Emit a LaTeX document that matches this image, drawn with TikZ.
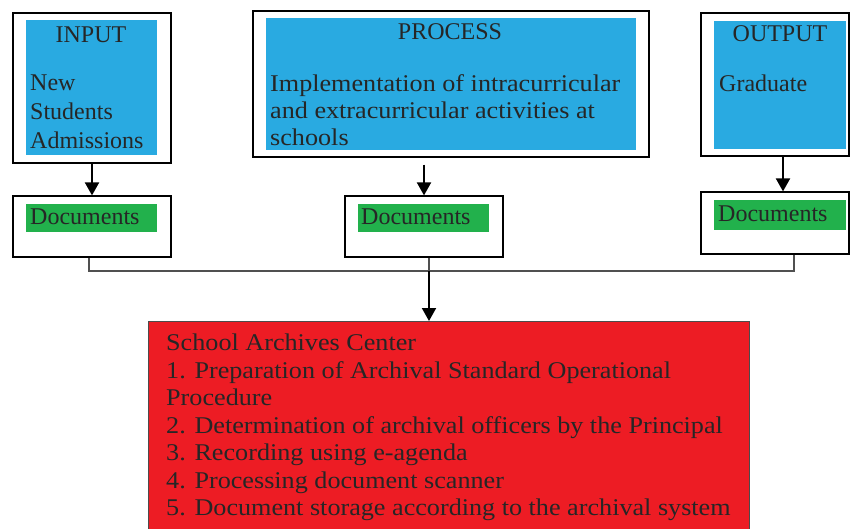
\documentclass[tikz,border=0pt]{standalone}
\usepackage{fontspec}
\setmainfont{Liberation Serif}
\newfontfamily\widefont[FakeStretch=1.09]{Liberation Serif}
\definecolor{boxblue}{RGB}{41,170,225}
\definecolor{boxgreen}{RGB}{34,177,76}
\definecolor{boxred}{RGB}{237,28,36}
\definecolor{linegray}{RGB}{80,80,80}
\usetikzlibrary{arrows.meta}
\tikzset{
  outerbox/.style={draw=black, line width=1.2pt, fill=white, inner sep=0pt},
  bluebox/.style={fill=boxblue, inner sep=0pt},
  greenbox/.style={fill=boxgreen, inner sep=0pt},
  redbox/.style={draw=black!70, line width=1pt, fill=boxred, inner sep=0pt},
  txt/.style={inner sep=0pt, font=\fontsize{24}{29}\selectfont, text=black!85},
  widetxt/.style={inner sep=0pt, font=\widefont\fontsize{24}{27}\selectfont, text=black!85},
  redtxt/.style={inner sep=0pt, font=\widefont\fontsize{24}{27.5}\selectfont, text=black!85},
  arr/.style={draw=black, line width=2pt, -{Triangle[length=13pt,width=14pt]}},
  conn/.style={draw=linegray, line width=1.3pt},
}
\begin{document}
\begin{tikzpicture}[x=1pt,y=-1pt]
\useasboundingbox (0,0) rectangle (851,529);
\clip (0,0) rectangle (851,529);
% INPUT
\node[outerbox, minimum width=158pt, minimum height=150pt] (inbox) at (92,88) {};
\node[bluebox, minimum width=131pt, minimum height=135pt] (inblue) at (91.5,87.5) {};
\node[txt] (intitle) at (91,35) {INPUT};
\node[txt, anchor=west, align=left] (intext) at (30,112) {New\\Students\\Admissions};
% PROCESS
\node[outerbox, minimum width=396pt, minimum height=146pt] (prbox) at (451,84) {};
\node[bluebox, minimum width=370pt, minimum height=132pt] (prblue) at (451,84) {};
\node[txt] (prtitle) at (450,32) {PROCESS};
\node[widetxt, anchor=west, align=left] (prtext) at (270,110) {Implementation of intracurricular\\and extracurricular activities at\\schools};
% OUTPUT
\node[outerbox, minimum width=148pt, minimum height=143pt] (outbox) at (775,84.5) {};
\node[bluebox, minimum width=132pt, minimum height=128pt] (outblue) at (780,85) {};
\node[txt] (outtitle) at (780,34) {OUTPUT};
\node[txt, anchor=west] (outtext) at (719,83) {Graduate};
% Documents
\node[outerbox, minimum width=158pt, minimum height=61pt] (indoc) at (92,226.5) {};
\node[greenbox, minimum width=131pt, minimum height=28pt] (ingreen) at (91.5,218) {};
\node[txt, anchor=west] (indoctext) at (30,217) {Documents};
\node[outerbox, minimum width=158pt, minimum height=61pt] (prdoc) at (424,226.5) {};
\node[greenbox, minimum width=131pt, minimum height=28pt] (prgreen) at (423.5,218) {};
\node[txt, anchor=west] (prdoctext) at (361,217) {Documents};
\node[outerbox, minimum width=148pt, minimum height=62pt] (outdoc) at (775,223) {};
\node[greenbox, minimum width=132pt, minimum height=30pt] (outgreen) at (780,215) {};
\node[txt, anchor=west] (outdoctext) at (718,214) {Documents};
% Red box
\node[redbox, minimum width=601pt, minimum height=240pt, anchor=north west] (archive) at (148,321) {};
\node[redtxt, anchor=north west, align=left] (archtext) at (166,334) {School Archives Center\\1. Preparation of Archival Standard Operational\\Procedure\\2. Determination of archival officers by the Principal\\3. Recording using e-agenda\\4. Processing document scanner\\5. Document storage according to the archival system};
% arrows
\draw[arr] (inbox.south) -- (indoc.north);
\draw[arr] (prbox.south -| prdoc.north) ++(0,7) -- (prdoc.north);
\draw[arr] (outbox.south -| 783,0) -- (outdoc.north -| 783,0);
\coordinate (jl) at (89,271);
\coordinate (jr) at (794,271);
\coordinate (jm) at (429,271);
\draw[conn] (indoc.south -| jl) -- (jl) -- (jr) -- (outdoc.south -| jr);
\draw[conn] (prdoc.south -| jm) -- (jm);
\draw[arr] (jm) -- (archive.north -| jm);
\end{tikzpicture}
\end{document}
